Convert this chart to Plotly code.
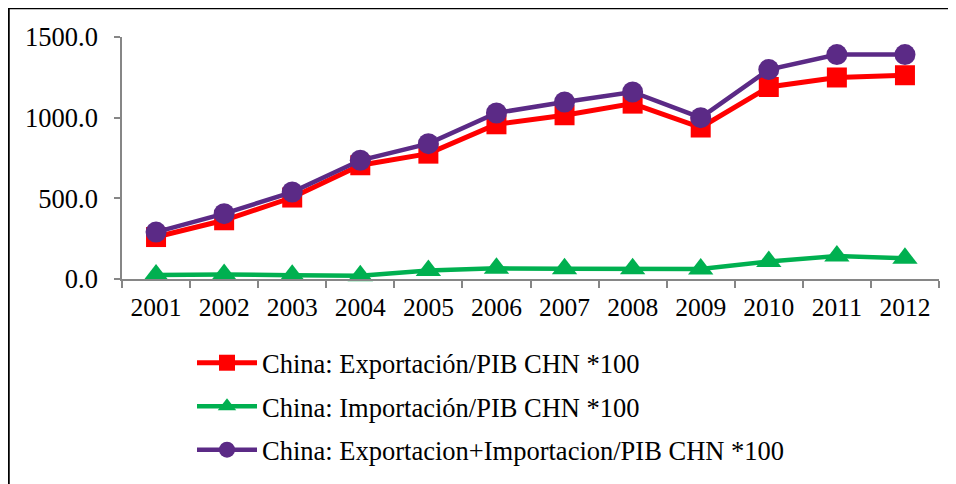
import plotly.graph_objects as go

years = ["2001", "2002", "2003", "2004", "2005", "2006", "2007", "2008", "2009", "2010", "2011", "2012"]
exportacion = [260, 364, 505, 705, 777, 959, 1015, 1087, 939, 1190, 1249, 1263]
importacion = [25, 28, 24, 20, 52, 66, 64, 64, 62, 108, 142, 128]
total = [291, 405, 539, 736, 839, 1029, 1097, 1159, 1000, 1298, 1391, 1391]

names = [
    "China: Exportación/PIB CHN *100",
    "China: Importación/PIB CHN *100",
    "China: Exportacion+Importacion/PIB CHN *100",
]
colors = ["#FF0000", "#00B050", "#5B2A86"]
symbols = ["square", "triangle-up", "circle"]
sizes = [20, 22, 21]
widths = [5, 4.5, 4.5]
series = [exportacion, importacion, total]

FONT = "Liberation Serif"

fig = go.Figure()
for i, vals in enumerate(series):
    fig.add_trace(go.Scatter(
        x=years, y=vals, name=names[i], mode="lines+markers",
        line=dict(color=colors[i], width=widths[i]),
        marker=dict(symbol=symbols[i], size=sizes[i], color=colors[i]),
        cliponaxis=False, legendgroup=str(i),
    ))

# the page body has an 8px margin: figure coordinates = page coordinates - 8
W, H = 948, 476
ml, mr, mt, mb = 114, 17, 29, 205
pw, ph = W - ml - mr, H - mt - mb

fig.update_layout(
    width=W, height=H,
    margin=dict(l=ml, r=mr, t=mt, b=mb, pad=0, autoexpand=False),
    paper_bgcolor="white", plot_bgcolor="white",
    font=dict(family=FONT, size=25.5, color="black"),
    showlegend=True,
    legend=dict(
        xref="container", yref="container",
        x=184 / W, xanchor="left",
        y=1 - 331 / H, yanchor="top",
        font=dict(family=FONT, size=26.5, color="black"),
        bgcolor="rgba(0,0,0,0)", tracegroupgap=6, itemwidth=60,
    ),
    xaxis=dict(
        type="category", range=[-0.5, 11.5], showgrid=False,
        showline=True, linecolor="#868686", linewidth=1.5,
        ticks="outside", ticklen=7, tickcolor="#868686", tickwidth=1.5,
        tickson="boundaries", ticklabelstandoff=5,
        tickfont=dict(family=FONT, size=25.5, color="black"), fixedrange=True,
    ),
    yaxis=dict(
        range=[0, 1500], tickvals=[0, 500, 1000, 1500], tickformat=".1f",
        showgrid=False, zeroline=False,
        showline=True, linecolor="#868686", linewidth=1.5,
        ticks="outside", ticklen=6, tickcolor="#868686", tickwidth=1.5,
        ticklabelstandoff=11,
        tickfont=dict(family=FONT, size=26.5, color="black"), fixedrange=True,
    ),
    shapes=[
        dict(type="line", xref="paper", yref="paper",
             x0=(0.5 - ml) / pw, x1=(W + 10 - ml) / pw,
             y0=(ph + (mt - 0)) / ph, y1=(ph + (mt - 0)) / ph,
             line=dict(color="black", width=2.5)),
        dict(type="line", xref="paper", yref="paper",
             x0=(0.5 - ml) / pw, x1=(0.5 - ml) / pw,
             y0=(ph + mt) / ph, y1=-(mb + 10) / ph,
             line=dict(color="black", width=2.5)),
    ],
)

fig.write_html("out.html")
